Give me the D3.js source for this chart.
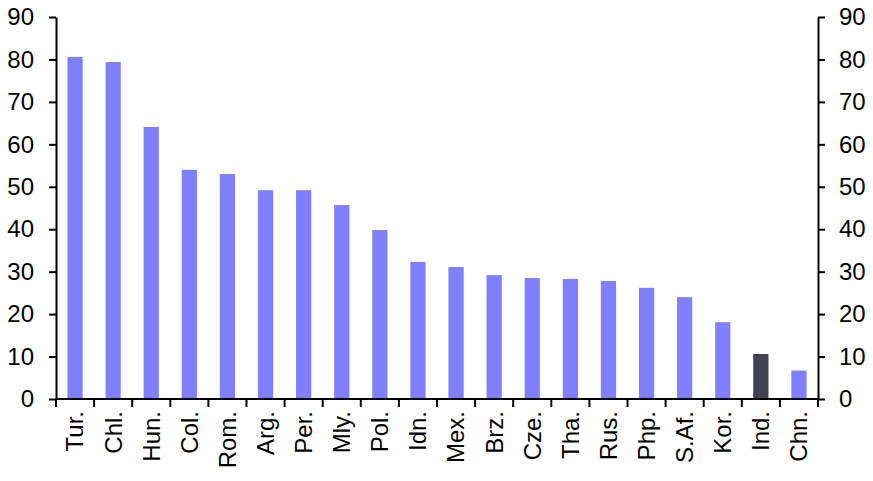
<!DOCTYPE html>
<html>
<head>
<meta charset="utf-8">
<script src="https://cdn.jsdelivr.net/npm/d3@7"></script>
<style>
  body { margin: 0; background: #fff; }
  svg text { font-family: "Liberation Sans", Arial, sans-serif; fill: #000; }
</style>
</head>
<body>
<svg width="873" height="481"></svg>
<script>
// Categories and values
const countries = ["Tur.", "Chl.", "Hun.", "Col.", "Rom.", "Arg.", "Per.", "Mly.", "Pol.", "Idn.",
                   "Mex.", "Brz.", "Cze.", "Tha.", "Rus.", "Php.", "S.Af.", "Kor.", "Ind.", "Chn."];
const values = [80.6, 79.4, 64.1, 54.0, 53.0, 49.2, 49.2, 45.7, 39.8, 32.3,
                31.1, 29.2, 28.5, 28.3, 27.8, 26.2, 24.0, 18.1, 10.6, 6.7];
const highlighted = ["Ind."];
const yTicks = [0, 10, 20, 30, 40, 50, 60, 70, 80, 90];

const plotLeft = 56, plotRight = 818, plotTop = 17, plotBottom = 399;

const svg = d3.select("svg");

const x = d3.scaleBand()
    .domain(countries)
    .range([plotLeft, plotRight])
    .paddingInner(0.6)
    .paddingOuter(0.3);

const y = d3.scaleLinear()
    .domain([0, 90])
    .range([plotBottom, plotTop]);

// Bars
svg.selectAll(".bar")
    .data(countries)
  .enter().append("rect")
    .attr("class", "bar")
    .attr("x", d => x(d))
    .attr("width", x.bandwidth())
    .attr("y", (d, i) => y(values[i]))
    .attr("height", (d, i) => y(0) - y(values[i]))
    .attr("fill", d => highlighted.includes(d) ? "#414152" : "#8080ff");

// Y axes, both sides
const yLeft = svg.append("g")
    .attr("transform", "translate(" + plotLeft + ",0)")
    .call(d3.axisLeft(y).tickValues(yTicks).tickSize(7).tickPadding(15).tickSizeOuter(0));

const yRight = svg.append("g")
    .attr("transform", "translate(" + plotRight + ",0)")
    .call(d3.axisRight(y).tickValues(yTicks).tickSize(7).tickPadding(14).tickSizeOuter(0));

[yLeft, yRight].forEach(g => {
    g.select(".domain").attr("stroke", "#000").attr("stroke-width", 2);
    g.selectAll(".tick line").attr("stroke", "#000").attr("stroke-width", 2);
    g.selectAll(".tick text").style("font-size", "24px").attr("fill", "#000");
});

// X axis: line with ticks at band boundaries
const xAxis = svg.append("g");
xAxis.append("line")
    .attr("x1", plotLeft).attr("x2", plotRight)
    .attr("y1", plotBottom).attr("y2", plotBottom)
    .attr("stroke", "#000").attr("stroke-width", 2);

const bounds = d3.range(countries.length + 1).map(i => plotLeft + i * (plotRight - plotLeft) / countries.length);
xAxis.selectAll(".xtick")
    .data(bounds)
  .enter().append("line")
    .attr("x1", d => d).attr("x2", d => d)
    .attr("y1", plotBottom).attr("y2", plotBottom + 8)
    .attr("stroke", "#000").attr("stroke-width", 2);

xAxis.selectAll(".xlabel")
    .data(countries)
  .enter().append("text")
    .attr("transform", d => "translate(" + (x(d) + x.bandwidth() / 2) + "," + (plotBottom + 12) + ") rotate(-90)")
    .attr("text-anchor", "end")
    .attr("dy", "0.35em")
    .style("font-size", "24px")
    .text(d => d);
</script>
</body>
</html>
